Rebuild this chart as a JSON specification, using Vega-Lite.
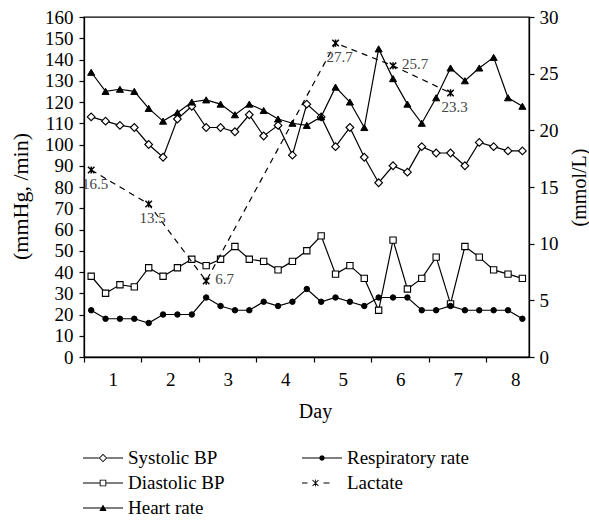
{
  "$schema": "https://vega.github.io/schema/vega-lite/v6.json",
  "autosize": "none",
  "width": 445,
  "height": 340,
  "padding": {"left": 84, "top": 17, "right": 60, "bottom": 163},
  "config": {
    "font": "Liberation Serif",
    "view": {"stroke": "black", "strokeWidth": 1.3},
    "axis": {
      "domainColor": "black", "domainWidth": 1.3, "tickColor": "black", "tickWidth": 1.2, "tickSize": 5,
      "labelColor": "black", "labelFont": "Liberation Serif", "labelFontSize": 19,
      "titleColor": "black", "titleFont": "Liberation Serif", "titleFontSize": 20, "titleFontWeight": "normal",
      "grid": false
    }
  },
  "datasets": {
    "vitals": [
      {"day": 0.625, "Systolic BP": 113, "Diastolic BP": 38, "Heart rate": 134, "Respiratory rate": 22},
      {"day": 0.875, "Systolic BP": 111, "Diastolic BP": 30, "Heart rate": 125, "Respiratory rate": 18},
      {"day": 1.125, "Systolic BP": 109, "Diastolic BP": 34, "Heart rate": 126, "Respiratory rate": 18},
      {"day": 1.375, "Systolic BP": 108, "Diastolic BP": 33, "Heart rate": 125, "Respiratory rate": 18},
      {"day": 1.625, "Systolic BP": 100, "Diastolic BP": 42, "Heart rate": 117, "Respiratory rate": 16},
      {"day": 1.875, "Systolic BP": 94, "Diastolic BP": 38, "Heart rate": 111, "Respiratory rate": 20},
      {"day": 2.125, "Systolic BP": 112, "Diastolic BP": 42, "Heart rate": 115, "Respiratory rate": 20},
      {"day": 2.375, "Systolic BP": 118, "Diastolic BP": 46, "Heart rate": 120, "Respiratory rate": 20},
      {"day": 2.625, "Systolic BP": 108, "Diastolic BP": 43, "Heart rate": 121, "Respiratory rate": 28},
      {"day": 2.875, "Systolic BP": 108, "Diastolic BP": 46, "Heart rate": 119, "Respiratory rate": 24},
      {"day": 3.125, "Systolic BP": 106, "Diastolic BP": 52, "Heart rate": 114, "Respiratory rate": 22},
      {"day": 3.375, "Systolic BP": 114, "Diastolic BP": 46, "Heart rate": 119, "Respiratory rate": 22},
      {"day": 3.625, "Systolic BP": 104, "Diastolic BP": 45, "Heart rate": 116, "Respiratory rate": 26},
      {"day": 3.875, "Systolic BP": 109, "Diastolic BP": 41, "Heart rate": 112, "Respiratory rate": 24},
      {"day": 4.125, "Systolic BP": 95, "Diastolic BP": 45, "Heart rate": 110, "Respiratory rate": 26},
      {"day": 4.375, "Systolic BP": 119, "Diastolic BP": 50, "Heart rate": 109, "Respiratory rate": 32},
      {"day": 4.625, "Systolic BP": 113, "Diastolic BP": 57, "Heart rate": 113, "Respiratory rate": 26},
      {"day": 4.875, "Systolic BP": 99, "Diastolic BP": 39, "Heart rate": 127, "Respiratory rate": 28},
      {"day": 5.125, "Systolic BP": 108, "Diastolic BP": 43, "Heart rate": 120, "Respiratory rate": 26},
      {"day": 5.375, "Systolic BP": 94, "Diastolic BP": 37, "Heart rate": 108, "Respiratory rate": 24},
      {"day": 5.625, "Systolic BP": 82, "Diastolic BP": 22, "Heart rate": 145, "Respiratory rate": 28},
      {"day": 5.875, "Systolic BP": 90, "Diastolic BP": 55, "Heart rate": 131, "Respiratory rate": 28},
      {"day": 6.125, "Systolic BP": 87, "Diastolic BP": 32, "Heart rate": 119, "Respiratory rate": 28},
      {"day": 6.375, "Systolic BP": 99, "Diastolic BP": 37, "Heart rate": 110, "Respiratory rate": 22},
      {"day": 6.625, "Systolic BP": 96, "Diastolic BP": 47, "Heart rate": 122, "Respiratory rate": 22},
      {"day": 6.875, "Systolic BP": 96, "Diastolic BP": 25, "Heart rate": 136, "Respiratory rate": 24},
      {"day": 7.125, "Systolic BP": 90, "Diastolic BP": 52, "Heart rate": 130, "Respiratory rate": 22},
      {"day": 7.375, "Systolic BP": 101, "Diastolic BP": 47, "Heart rate": 136, "Respiratory rate": 22},
      {"day": 7.625, "Systolic BP": 99, "Diastolic BP": 41, "Heart rate": 141, "Respiratory rate": 22},
      {"day": 7.875, "Systolic BP": 97, "Diastolic BP": 39, "Heart rate": 122, "Respiratory rate": 22},
      {"day": 8.125, "Systolic BP": 97, "Diastolic BP": 37, "Heart rate": 118, "Respiratory rate": 18}
    ],
    "lactate": [
      {"day": 0.625, "series": "Lactate", "value": 16.5},
      {"day": 1.625, "series": "Lactate", "value": 13.5},
      {"day": 2.625, "series": "Lactate", "value": 6.7},
      {"day": 4.875, "series": "Lactate", "value": 27.7},
      {"day": 5.875, "series": "Lactate", "value": 25.7},
      {"day": 6.875, "series": "Lactate", "value": 23.3}
    ]
  },
  "encoding": {
    "x": {
      "field": "day", "type": "quantitative",
      "scale": {"domain": [0.5, 8.24], "nice": false, "zero": false},
      "axis": {"title": "Day", "values": [1, 2, 3, 4, 5, 6, 7, 8], "tickOffset": -28.75, "labelOffset": 28.75, "labelPadding": 8, "titlePadding": 12, "titleX": 231, "format": "d"}
    }
  },
  "layer": [
    {
      "data": {"name": "vitals"},
      "transform": [{"fold": ["Systolic BP", "Diastolic BP", "Heart rate", "Respiratory rate"], "as": ["series", "value"]}],
      "encoding": {
        "y": {
          "field": "value", "type": "quantitative",
          "scale": {"domain": [0, 160], "nice": false},
          "axis": {"orient": "left", "title": "(mmHg, /min)", "titleFontSize": 22, "titleY": 179, "values": [0, 10, 20, 30, 40, 50, 60, 70, 80, 90, 100, 110, 120, 130, 140, 150, 160], "labelPadding": 6, "titlePadding": 12}
        }
      },
      "layer": [
        {
          "mark": {"type": "line", "color": "black", "strokeWidth": 1.2},
          "encoding": {"detail": {"field": "series", "type": "nominal"}}
        },
        {
          "mark": {"type": "point", "filled": true, "fill": "black", "stroke": "black", "strokeWidth": 0, "opacity": 0},
          "encoding": {
            "shape": {
              "field": "series", "type": "nominal",
              "scale": {
                "domain": ["Systolic BP", "Diastolic BP", "Heart rate", "Respiratory rate", "Lactate"],
                "range": [
                  "M-2,-0.05L-0.42,-0.05L-0.42,0.05L-2,0.05ZM0.42,-0.05L2,-0.05L2,0.05L0.42,0.05ZM-0.42,0L0,-0.42L0.42,0L0,0.42ZM-0.3,0L0,0.3L0.3,0L0,-0.3Z",
                  "M-2,-0.05L-0.33,-0.05L-0.33,0.05L-2,0.05ZM0.33,-0.05L2,-0.05L2,0.05L0.33,0.05ZM-0.33,-0.33L0.33,-0.33L0.33,0.33L-0.33,0.33ZM-0.24,-0.24L-0.24,0.24L0.24,0.24L0.24,-0.24Z",
                  "M-2,-0.05L2,-0.05L2,0.05L-2,0.05ZM-0.36,0.3L0,-0.36L0.36,0.3Z",
                  "M-2,-0.05L2,-0.05L2,0.05L-2,0.05ZM0.28,0L0.2,0.2L0,0.28L-0.2,0.2L-0.28,0L-0.2,-0.2L0,-0.28L0.2,-0.2Z",
                  "M-2,-0.05L-1.45,-0.05L-1.45,0.05L-2,0.05ZM0.15,-0.05L0.75,-0.05L0.75,0.05L0.15,0.05ZM-0.915,-0.335L-0.315,0.265L-0.385,0.335L-0.985,-0.265ZM-0.915,0.335L-0.985,0.265L-0.385,-0.335L-0.315,-0.265ZM-0.69,-0.36L-0.61,-0.36L-0.61,0.36L-0.69,0.36Z"
                ]
              },
              "legend": {
                "orient": "none", "legendX": 9, "legendY": 431, "columns": 2, "title": null,
                "symbolSize": 400, "symbolOpacity": 1, "symbolFillColor": "black", "symbolStrokeWidth": 0,
                "labelFont": "Liberation Serif", "labelFontSize": 19, "labelColor": "black",
                "labelOffset": 15, "columnPadding": 77, "rowPadding": 5
              }
            }
          }
        },
        {
          "transform": [{"filter": "datum.series === 'Systolic BP'"}],
          "mark": {"type": "point", "shape": "M-1,0L0,-1L1,0L0,1Z", "size": 60, "filled": true, "fill": "white", "stroke": "black", "strokeWidth": 1.1, "opacity": 1}
        },
        {
          "transform": [{"filter": "datum.series === 'Diastolic BP'"}],
          "mark": {"type": "point", "shape": "square", "size": 40, "filled": true, "fill": "white", "stroke": "black", "strokeWidth": 1.1, "opacity": 1}
        },
        {
          "transform": [{"filter": "datum.series === 'Heart rate'"}],
          "mark": {"type": "point", "shape": "triangle-up", "size": 50, "filled": true, "fill": "black", "stroke": "black", "strokeWidth": 1, "opacity": 1}
        },
        {
          "transform": [{"filter": "datum.series === 'Respiratory rate'"}],
          "mark": {"type": "point", "shape": "circle", "size": 30, "filled": true, "fill": "black", "stroke": "black", "strokeWidth": 1, "opacity": 1}
        }
      ]
    },
    {
      "data": {"name": "lactate"},
      "encoding": {
        "y": {
          "field": "value", "type": "quantitative",
          "scale": {"domain": [0, 30], "nice": false},
          "axis": {"orient": "right", "title": "(mmol/L)", "values": [0, 5, 10, 15, 20, 25, 30], "labelPadding": 5, "titlePadding": 31, "titleAngle": 270, "titleBaseline": "bottom"}
        }
      },
      "layer": [
        {
          "mark": {"type": "line", "color": "black", "strokeWidth": 1.2, "strokeDash": [6, 5]},
          "encoding": {}
        },
        {
          "mark": {"type": "point", "shape": "M-1,-1L1,1M-1,1L1,-1M0,-1.1L0,1.1", "size": 42, "filled": false, "stroke": "black", "strokeWidth": 1.5, "opacity": 1}
        },
        {
          "transform": [{"filter": "datum.value != 6.7 && datum.value != 25.7"}],
          "mark": {"type": "text", "font": "Liberation Serif", "fontSize": 15, "color": "#444", "align": "center", "baseline": "middle", "dx": 4, "dy": 14},
          "encoding": {"text": {"field": "value", "type": "quantitative", "format": ".1f"}}
        },
        {
          "transform": [{"filter": "datum.value == 6.7 || datum.value == 25.7"}],
          "mark": {"type": "text", "font": "Liberation Serif", "fontSize": 15, "color": "#444", "align": "left", "baseline": "middle", "dx": 9, "dy": -2},
          "encoding": {"text": {"field": "value", "type": "quantitative", "format": ".1f"}}
        }
      ]
    }
  ],
  "resolve": {"scale": {"y": "independent"}}
}
